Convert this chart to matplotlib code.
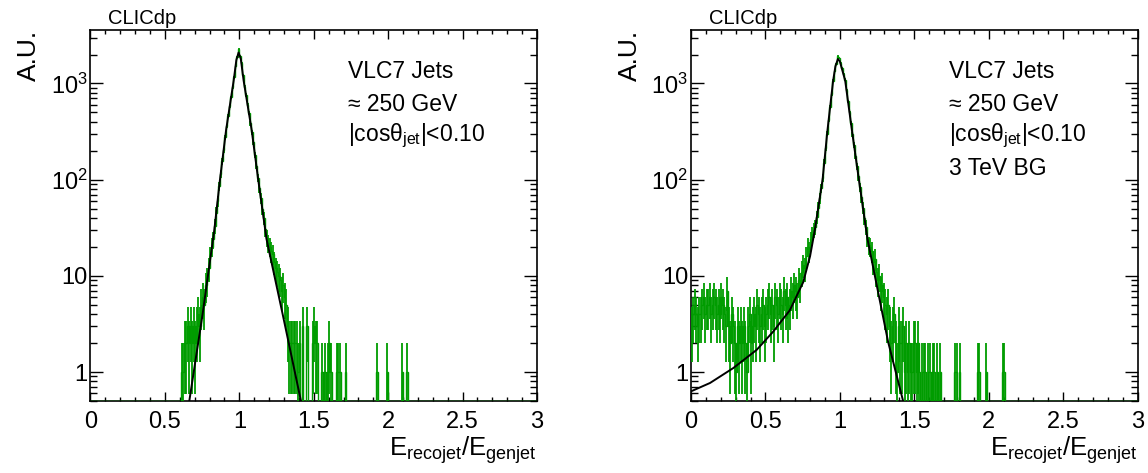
import numpy as np
import matplotlib
matplotlib.use('Agg')
import matplotlib.pyplot as plt
from matplotlib.ticker import MultipleLocator, FixedLocator, FuncFormatter, LogLocator, NullFormatter

plt.rcParams['font.family'] = ['Liberation Sans', 'DejaVu Sans']
plt.rcParams['mathtext.fontset'] = 'custom'
plt.rcParams['mathtext.rm'] = 'Liberation Sans'
plt.rcParams['mathtext.it'] = 'Liberation Sans:italic'
plt.rcParams['mathtext.bf'] = 'Liberation Sans:bold'

# ---------------- data ----------------
BIN_W = 0.01
X_MIN, X_MAX = 0.0, 3.0

# left panel: bin low edges and counts (no background)
left_x = [0.61, 0.62, 0.63, 0.64, 0.65, 0.66, 0.67, 0.68, 0.69, 0.70,
          0.71, 0.72, 0.73, 0.74, 0.75, 0.76, 0.77, 0.78, 0.79, 0.80,
          0.81, 0.82, 0.83, 0.84, 0.85, 0.86, 0.87, 0.88, 0.89, 0.90,
          0.91, 0.92, 0.93, 0.94, 0.95, 0.96, 0.97, 0.98, 0.99, 1.00,
          1.01, 1.02, 1.03, 1.04, 1.05, 1.06, 1.07, 1.08, 1.09, 1.10,
          1.11, 1.12, 1.13, 1.14, 1.15, 1.16, 1.17, 1.18, 1.19, 1.20,
          1.21, 1.22, 1.23, 1.24, 1.25, 1.26, 1.27, 1.28, 1.29, 1.30,
          1.31, 1.32, 1.33, 1.34, 1.35, 1.36, 1.37, 1.38, 1.39, 1.40,
          1.42, 1.45, 1.49, 1.50, 1.51, 1.52, 1.55, 1.57, 1.59, 1.60,
          1.61, 1.65, 1.66, 1.67, 1.71, 1.92, 1.99, 2.09, 2.12]
left_n = [1, 1, 2, 2, 3, 2, 3, 2, 3, 2,
          3, 4, 3, 5, 6, 5, 8, 9, 12, 16,
          20, 24, 33, 45, 60, 85, 115, 155, 205, 275,
          360, 455, 580, 720, 910, 1160, 1520, 1900, 2300, 1950,
          1650, 1220, 930, 760, 600, 490, 385, 310, 245, 180,
          140, 105, 82, 64, 50, 40, 31, 25, 22, 20,
          18, 17, 14, 12, 11, 10, 9, 7, 8, 6,
          5, 3, 2, 2, 2, 2, 2, 2, 1, 2,
          3, 3, 2, 3, 2, 2, 1, 1, 1, 2,
          1, 1, 1, 1, 1, 1, 1, 1, 1]

# right panel: bin low edges and counts (with 3 TeV background)
right_x = [0.00, 0.01, 0.02, 0.03, 0.04, 0.05, 0.06, 0.07, 0.08, 0.09,
           0.10, 0.11, 0.12, 0.13, 0.14, 0.15, 0.16, 0.17, 0.18, 0.19,
           0.20, 0.21, 0.22, 0.23, 0.24, 0.25, 0.26, 0.27, 0.28, 0.29,
           0.30, 0.31, 0.32, 0.33, 0.34, 0.35, 0.36, 0.37, 0.38, 0.39,
           0.40, 0.41, 0.42, 0.43, 0.44, 0.45, 0.46, 0.47, 0.48, 0.49,
           0.50, 0.51, 0.52, 0.53, 0.54, 0.55, 0.56, 0.57, 0.58, 0.59,
           0.60, 0.61, 0.62, 0.63, 0.64, 0.65, 0.66, 0.67, 0.68, 0.69,
           0.70, 0.71, 0.72, 0.73, 0.74, 0.75, 0.76, 0.77, 0.78, 0.79,
           0.80, 0.81, 0.82, 0.83, 0.84, 0.85, 0.86, 0.87, 0.88, 0.89,
           0.90, 0.91, 0.92, 0.93, 0.94, 0.95, 0.96, 0.97, 0.98, 0.99,
           1.00, 1.01, 1.02, 1.03, 1.04, 1.05, 1.06, 1.07, 1.08, 1.09,
           1.10, 1.11, 1.12, 1.13, 1.14, 1.15, 1.16, 1.17, 1.18, 1.19,
           1.20, 1.21, 1.22, 1.23, 1.24, 1.25, 1.26, 1.27, 1.28, 1.29,
           1.30, 1.31, 1.32, 1.33, 1.34, 1.35, 1.36, 1.37, 1.38, 1.39,
           1.40, 1.41, 1.42, 1.43, 1.44, 1.45, 1.46, 1.47, 1.48, 1.49,
           1.50, 1.51, 1.52, 1.53, 1.55, 1.56, 1.57, 1.59, 1.60, 1.62,
           1.63, 1.65, 1.67, 1.77, 1.78, 1.80, 1.92, 1.93, 1.98, 2.09,
           2.10]
right_n = [3, 4, 5, 4, 3, 4, 4, 5, 6, 4,
           5, 5, 6, 4, 5, 6, 5, 4, 5, 4,
           6, 5, 4, 3, 7, 3, 2, 4, 3, 2,
           1, 3, 2, 3, 2, 3, 2, 1, 3, 4,
           2, 3, 4, 3, 5, 4, 3, 4, 5, 3,
           4, 5, 6, 4, 5, 3, 6, 5, 4, 6,
           5, 4, 7, 5, 6, 4, 5, 7, 6, 8,
           7, 6, 9, 8, 11, 13, 12, 16, 20, 18,
           24, 27, 30, 32, 41, 51, 64, 82, 105, 150,
           215, 300, 420, 570, 770, 1070, 1350, 1600, 1950, 1850,
           1650, 1450, 1250, 1100, 850, 650, 500, 390, 295, 230,
           178, 138, 108, 83, 66, 51, 40, 32, 25, 21,
           20, 18, 14, 15, 11, 9, 10, 7, 8, 6,
           5, 4, 5, 3, 2, 3, 4, 2, 1, 3,
           2, 2, 3, 1, 2, 1, 2, 1, 1, 2,
           2, 1, 2, 1, 1, 1, 1, 1, 1, 1,
           1, 1, 1, 1, 1, 1, 1, 1, 1, 1,
           1]

# fitted curves
fit_left_x = [0.664, 0.70, 0.754, 0.80, 0.832, 0.870, 0.911, 0.962, 0.980, 0.995,
              1.010, 1.029, 1.083, 1.127, 1.183, 1.29, 1.414]
fit_left_y = [0.5, 1.16, 4.07, 13.3, 30, 100, 327, 1070, 1750, 2100,
              1800, 1070, 327, 100, 24, 4.07, 0.5]

fit_right_x = [0.0, 0.128, 0.284, 0.441, 0.552, 0.664, 0.754, 0.80, 0.832, 0.884,
               0.917, 0.955, 0.970, 0.987, 1.000, 1.036, 1.081, 1.128, 1.186, 1.324, 1.425]
fit_right_y = [0.63, 0.77, 1.1, 1.7, 2.63, 4.39, 8.6, 16, 30, 100,
               327, 1070, 1500, 1800, 1700, 1070, 327, 100, 24, 2.07, 0.5]

labels_left = ["VLC7 Jets", "\u2248 250 GeV", "|cos\u03b8$_{\\mathrm{jet}}$|<0.10"]
labels_right = ["VLC7 Jets", "\u2248 250 GeV", "|cos\u03b8$_{\\mathrm{jet}}$|<0.10", "3 TeV BG"]

GREEN = '#009c00'
Y_MIN, Y_MAX = 0.5, 3600

# ---------------- figure ----------------
fig = plt.figure(figsize=(11.48, 4.73), dpi=100)
ax_l = fig.add_axes([0.0788, 0.1522, 0.389, 0.7844])
ax_r = fig.add_axes([0.6019, 0.1522, 0.389, 0.7844])


def draw(ax, xs, ns, fx, fy, lines):
    nb = int(round((X_MAX - X_MIN) / BIN_W))
    edges = np.linspace(X_MIN, X_MAX, nb + 1)
    counts = np.zeros(nb)
    idx = np.round(np.array(xs) / BIN_W).astype(int)
    counts[idx] = np.array(ns, dtype=float)
    ax.stairs(np.where(counts > 0, counts, Y_MIN), edges, color=GREEN,
              lw=1.0, zorder=3, baseline=None)
    centers = 0.5 * (edges[:-1] + edges[1:])
    m = counts > 0
    n = counts[m]
    err = np.sqrt(n)
    ax.vlines(centers[m], np.maximum(n - err, 0.05), n + err, color=GREEN,
              lw=1.3, zorder=3)
    ax.plot(fx, fy, color='black', lw=1.4, zorder=4)

    ax.set_xlim(X_MIN, X_MAX)
    ax.set_yscale('log')
    ax.set_ylim(Y_MIN, Y_MAX)
    ax.xaxis.set_major_locator(MultipleLocator(0.5))
    ax.xaxis.set_minor_locator(MultipleLocator(0.1))
    ax.xaxis.set_major_formatter(FuncFormatter(lambda v, p: '%g' % v))
    ax.yaxis.set_major_locator(FixedLocator([1, 10, 100, 1000]))
    ax.yaxis.set_major_formatter(FuncFormatter(
        lambda v, p: {1: '1', 10: '10', 100: '$10^{2}$', 1000: '$10^{3}$'}.get(int(round(v)), '')))
    ax.yaxis.set_minor_locator(LogLocator(base=10, subs=np.arange(2, 10), numticks=20))
    ax.yaxis.set_minor_formatter(NullFormatter())
    ax.tick_params(axis='both', which='both', direction='in', top=True, right=True,
                   width=1.0, colors='black')
    ax.tick_params(axis='x', which='major', length=6.5, labelsize=17, pad=7)
    ax.tick_params(axis='x', which='minor', length=3.2)
    ax.tick_params(axis='y', which='major', length=9.5, labelsize=17, pad=2)
    ax.tick_params(axis='y', which='minor', length=5)
    for s in ax.spines.values():
        s.set_linewidth(1.2)
    ax.set_xlabel('E$_{\\mathrm{recojet}}$/E$_{\\mathrm{genjet}}$', fontsize=18.5,
                  loc='right', labelpad=1)
    ax.set_ylabel('A.U.', fontsize=19, loc='top', labelpad=7)
    ax.text(0.04, 1.006, 'CLICdp', transform=ax.transAxes, fontsize=14.5,
            ha='left', va='bottom')
    ys = [0.871, 0.782, 0.700, 0.609]
    for t, y in zip(lines, ys):
        ax.text(0.577, y, t, transform=ax.transAxes, fontsize=16.5,
                ha='left', va='baseline')


draw(ax_l, left_x, left_n, fit_left_x, fit_left_y, labels_left)
draw(ax_r, right_x, right_n, fit_right_x, fit_right_y, labels_right)

fig.savefig('out.png', dpi=100)
